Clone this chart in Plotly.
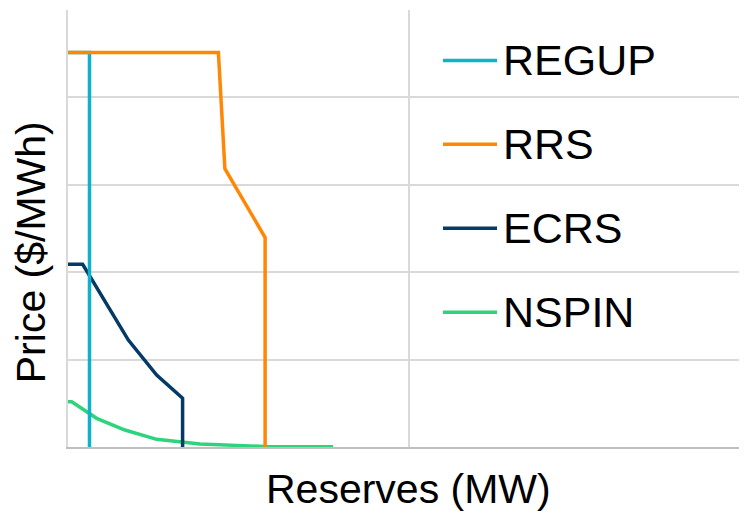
import plotly.graph_objects as go

# Data
regup_x = [0, 63, 63]
regup_y = [4514, 4514, 0]

rrs_x = [0, 441, 460, 578, 578]
rrs_y = [4514, 4514, 3185, 2397, 0]

ecrs_x = [0, 43, 177, 260, 336, 336]
ecrs_y = [2091, 2091, 1223, 823, 557, 0]

nspin_x = [0, 11, 84, 167, 260, 387, 578, 777]
nspin_y = [518, 518, 328, 194, 88, 34, 6, 3]

series_names = ["REGUP", "RRS", "ECRS", "NSPIN"]
colors = {"REGUP": "#0fb2cc", "RRS": "#ff8705", "ECRS": "#053a66", "NSPIN": "#2ed47c"}
data = {"REGUP": (regup_x, regup_y), "RRS": (rrs_x, rrs_y),
        "ECRS": (ecrs_x, ecrs_y), "NSPIN": (nspin_x, nspin_y)}
draw_order = ["NSPIN", "ECRS", "REGUP", "RRS"]

FONT = "Liberation Sans, Arial, sans-serif"
LW = 3.5

fig = go.Figure()
for name in draw_order:
    xs, ys = data[name]
    fig.add_trace(go.Scatter(x=xs, y=ys, mode="lines", name=name,
                             line=dict(color=colors[name], width=LW),
                             showlegend=False, hoverinfo="skip"))

# Manual legend (line sample + text), positioned in paper coordinates
legend_y = [0.8846, 0.6926, 0.5006, 0.3086]
for name, yy in zip(series_names, legend_y):
    fig.add_shape(type="line", xref="paper", yref="paper",
                  x0=0.5523, x1=0.6318, y0=yy, y1=yy,
                  line=dict(color=colors[name], width=LW))
    fig.add_annotation(text=name, xref="paper", yref="paper", x=0.638, y=yy,
                       xanchor="left", yanchor="middle", showarrow=False,
                       font=dict(family=FONT, size=43, color="#000000"))

# Axis titles
fig.add_annotation(text="Price ($/MWh)", xref="paper", yref="paper",
                   x=-0.0545, y=0.4457, textangle=-90, showarrow=False,
                   xanchor="center", yanchor="middle",
                   font=dict(family=FONT, size=41, color="#000000"))
fig.add_annotation(text="Reserves (MW)", xref="paper", yref="paper",
                   x=0.502, y=-0.097, showarrow=False,
                   xanchor="center", yanchor="middle",
                   font=dict(family=FONT, size=41, color="#000000"))

# The page body has an 8px margin, so the figure is sized to fit the window
fig.update_layout(
    width=739, height=507,
    margin=dict(l=60, r=0, t=2, b=68),
    paper_bgcolor="white", plot_bgcolor="white",
    font=dict(family=FONT, color="#000000"),
)
fig.update_xaxes(range=[0, 1991], dtick=1000, tick0=0, showticklabels=False,
                 showgrid=True, gridcolor="#d9d9d9", gridwidth=1.5,
                 zeroline=False, showline=True, linecolor="#bfbfbf", linewidth=2,
                 ticks="", fixedrange=True)
fig.update_yaxes(range=[0, 5000], dtick=1000, tick0=0, showticklabels=False,
                 showgrid=True, gridcolor="#d9d9d9", gridwidth=1.5,
                 zeroline=False, showline=True, linecolor="#d9d9d9", linewidth=1.5,
                 ticks="", fixedrange=True)

fig.write_html("out.html")
